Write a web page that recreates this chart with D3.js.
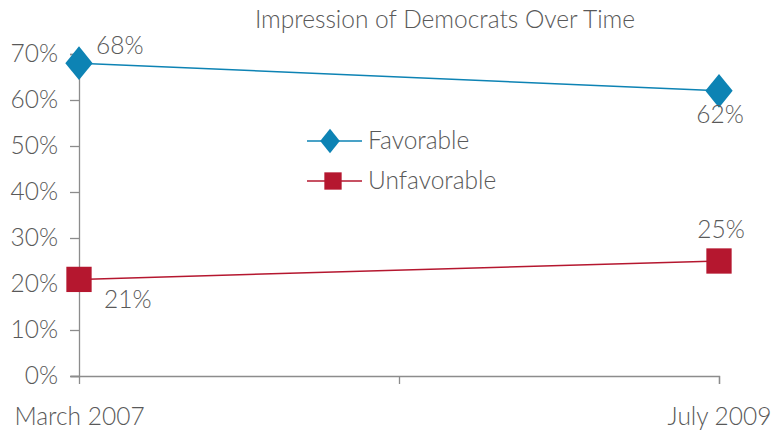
<!DOCTYPE html>
<html>
<head>
<meta charset="utf-8">
<script src="https://cdn.jsdelivr.net/npm/d3@7"></script>
<style>
body { margin: 0; background: #fff; }
text { font-family: Lato, "Open Sans", sans-serif; font-weight: 300; fill: #595959; }
</style>
</head>
<body>
<svg id="chart" width="771" height="433"></svg>
<script>
const categories = ["March 2007", "July 2009"];
const favorable = [68, 62];
const unfavorable = [21, 25];
const yTicks = [0, 10, 20, 30, 40, 50, 60, 70];
const seriesNames = ["Favorable", "Unfavorable"];

const chart = d3.select("#chart");
const axisColor = "#8c8c8c";
const blue = "#0d83b4";
const red = "#b5172f";
const fontSize = 24.5;

const x = d3.scaleLinear().domain([0, categories.length - 1]).range([79, 719]);
const y = d3.scaleLinear().domain([0, 70]).range([376, 54]);

// title
chart.append("text")
	.text("Impression of Democrats Over Time")
	.attr("x", 445)
	.attr("y", 28)
	.attr("text-anchor", "middle")
	.attr("font-size", 24.5);

// y axis
const yAxis = chart.append("g").attr("transform", "translate(79,0)")
	.call(d3.axisLeft(y).tickValues(yTicks).tickSize(9).tickPadding(12).tickFormat(d => d + "%"));
yAxis.selectAll("text").attr("font-size", fontSize).attr("fill", "#595959").attr("font-family", null);

// x axis
const xAxis = chart.append("g").attr("transform", "translate(0,376)")
	.call(d3.axisBottom(x).tickValues([0, 0.5, 1]).tickSize(8).tickPadding(24)
		.tickFormat(d => Number.isInteger(d) ? categories[d] : ""));
xAxis.selectAll("text").attr("font-size", fontSize).attr("fill", "#595959").attr("font-family", null);
xAxis.select(".domain").attr("d", "M71,0.5H719.5V8");

chart.selectAll(".domain, .tick line").attr("stroke", axisColor).attr("stroke-width", 1.3);

const line = d3.line().x((d, i) => x(i)).y(d => y(d));

function drawSeries(values, color, shape, labelPos) {
	chart.append("path")
		.datum(values)
		.attr("d", line)
		.attr("fill", "none")
		.attr("stroke", color)
		.attr("stroke-width", 1.5);
	chart.append("g").selectAll("path")
		.data(values)
		.join("path")
		.attr("d", d3.symbol().type(shape).size(shape === d3.symbolDiamond ? 330 : 640))
		.attr("transform", (d, i) => "translate(" + x(i) + "," + y(d) + ")" + (shape === d3.symbolDiamond ? "scale(1.4,1)" : ""))
		.attr("fill", color);
	chart.append("g").selectAll("text")
		.data(values)
		.join("text")
		.text(d => d + "%")
		.attr("font-size", fontSize)
		.attr("text-anchor", (d, i) => labelPos[i][2])
		.attr("x", (d, i) => x(i) + labelPos[i][0])
		.attr("y", (d, i) => y(d) + labelPos[i][1]);
}

drawSeries(favorable, blue, d3.symbolDiamond, [[17, -9, "start"], [1, 32, "middle"]]);
drawSeries(unfavorable, red, d3.symbolSquare, [[25, 29, "start"], [2, -23, "middle"]]);

// legend
const legend = chart.append("g").attr("transform", "translate(307,141)");
const shapes = [d3.symbolDiamond, d3.symbolSquare];
const colors = [blue, red];
seriesNames.forEach((name, i) => {
	const g = legend.append("g").attr("transform", "translate(0," + i * 40 + ")");
	g.append("line").attr("x1", 0).attr("x2", 55).attr("stroke", colors[i]).attr("stroke-width", 1.5);
	g.append("path")
		.attr("d", d3.symbol().type(shapes[i]).size(i === 0 ? 170 : 300))
		.attr("transform", "translate(" + (i === 0 ? 23 : 26) + ",0)" + (i === 0 ? "scale(1.4,1)" : ""))
		.attr("fill", colors[i]);
	g.append("text").text(name).attr("x", 61).attr("y", 8).attr("font-size", fontSize);
});
</script>
</body>
</html>
